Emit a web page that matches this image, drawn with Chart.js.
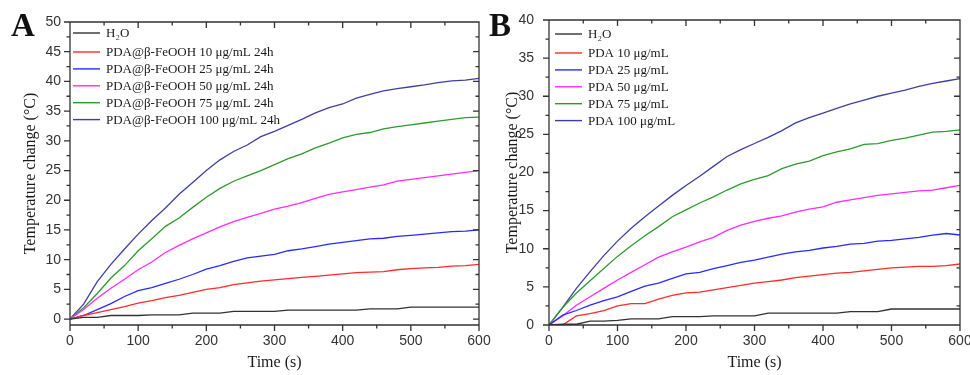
<!DOCTYPE html>
<html>
<head>
<meta charset="utf-8">
<script src="https://cdn.jsdelivr.net/npm/chart.js@4.4.0/dist/chart.umd.min.js"></script>
<style>
  body { margin: 0; background: #fff; }
  #wrap { position: relative; width: 970px; height: 375px; overflow: hidden; }
  canvas { position: absolute; top: 0; }
  #cA { left: 0; }
  #cB { left: 485px; }
  .tag { position: absolute; top: 9px; font: bold 33px "Liberation Serif", serif; line-height: 1; color: #111; }
</style>
</head>
<body>
<div id="wrap">
  <canvas id="cA" width="500" height="375"></canvas>
  <canvas id="cB" width="485" height="375"></canvas>
  <div class="tag" style="left:11px">A</div>
  <div class="tag" style="left:489px">B</div>
</div>
<script>
// time axis (s), one reading every 20 s
const timeS = [0, 20, 40, 60, 80, 100, 120, 140, 160, 180, 200, 220, 240, 260, 280, 300,
  320, 340, 360, 380, 400, 420, 440, 460, 480, 500, 520, 540, 560, 580, 600];

// panel A: PDA@β-FeOOH, temperature change (°C)
const feH2O = [0, 0.3, 0.3, 0.6, 0.6, 0.6, 0.7, 0.7, 0.7, 1.0, 1.0, 1.0, 1.3, 1.3, 1.3, 1.3,
  1.5, 1.5, 1.5, 1.5, 1.5, 1.5, 1.7, 1.7, 1.7, 2.0, 2.0, 2.0, 2.0, 2.0, 2.0];
const fe10 = [0, 0.6, 1.1, 1.6, 2.1, 2.7, 3.1, 3.6, 4.0, 4.5, 5.0, 5.3, 5.8, 6.1, 6.4, 6.6,
  6.8, 7.0, 7.2, 7.4, 7.6, 7.8, 7.9, 8.0, 8.3, 8.5, 8.6, 8.7, 8.9, 9.0, 9.2];
const fe25 = [0, 0.6, 1.6, 2.6, 3.8, 4.8, 5.3, 6.0, 6.7, 7.5, 8.4, 9.0, 9.7, 10.3, 10.6, 10.9,
  11.5, 11.8, 12.2, 12.6, 12.9, 13.2, 13.5, 13.6, 13.9, 14.1, 14.3, 14.5, 14.7, 14.8, 15.0];
const fe50 = [0, 1.6, 3.5, 5.2, 6.7, 8.3, 9.6, 11.2, 12.4, 13.5, 14.5, 15.5, 16.4, 17.1, 17.8, 18.5,
  19.0, 19.6, 20.3, 21.0, 21.4, 21.8, 22.2, 22.6, 23.2, 23.5, 23.8, 24.1, 24.4, 24.7, 25.0];
const fe75 = [0, 1.9, 4.3, 6.9, 9.0, 11.5, 13.5, 15.6, 17.0, 18.8, 20.5, 22.0, 23.2, 24.1, 25.0, 26.0,
  27.0, 27.8, 28.8, 29.6, 30.5, 31.1, 31.4, 32.0, 32.4, 32.7, 33.0, 33.3, 33.6, 33.9, 34.0];
const fe100 = [0, 2.5, 6.3, 9.2, 11.8, 14.3, 16.6, 18.7, 21.0, 23.0, 25.0, 26.8, 28.2, 29.3, 30.7, 31.6,
  32.6, 33.6, 34.7, 35.6, 36.2, 37.2, 37.8, 38.4, 38.8, 39.1, 39.4, 39.8, 40.1, 40.2, 40.5];

// panel B: PDA only
const pdaH2O = [0, 0.1, 0.1, 0.5, 0.5, 0.6, 0.8, 0.8, 0.8, 1.1, 1.1, 1.1, 1.2, 1.2, 1.2, 1.2,
  1.55, 1.55, 1.55, 1.55, 1.55, 1.55, 1.75, 1.75, 1.75, 2.1, 2.1, 2.1, 2.1, 2.1, 2.1];
const pda10 = [0, 0, 1.2, 1.5, 1.9, 2.5, 2.8, 2.8, 3.4, 3.9, 4.2, 4.3, 4.6, 4.9, 5.2, 5.5,
  5.7, 5.9, 6.2, 6.4, 6.6, 6.8, 6.9, 7.1, 7.3, 7.5, 7.6, 7.7, 7.7, 7.8, 8.0];
const pda25 = [0, 1.3, 1.9, 2.6, 3.2, 3.7, 4.4, 5.1, 5.5, 6.1, 6.7, 6.9, 7.4, 7.8, 8.2, 8.5,
  8.9, 9.3, 9.6, 9.8, 10.1, 10.3, 10.6, 10.7, 11.0, 11.1, 11.3, 11.5, 11.8, 12.0, 11.8];
const pda50 = [0, 1.2, 2.6, 3.7, 4.8, 5.9, 6.9, 7.9, 8.9, 9.6, 10.2, 10.9, 11.5, 12.4, 13.1, 13.6,
  14.0, 14.3, 14.8, 15.2, 15.5, 16.1, 16.4, 16.7, 17.0, 17.2, 17.4, 17.6, 17.7, 18.0, 18.3];
const pda75 = [0, 2.3, 4.2, 5.8, 7.4, 9.0, 10.4, 11.7, 12.9, 14.2, 15.1, 16.0, 16.8, 17.7, 18.5, 19.1,
  19.6, 20.5, 21.1, 21.5, 22.2, 22.7, 23.1, 23.7, 23.8, 24.2, 24.5, 24.9, 25.3, 25.4, 25.6];
const pda100 = [0, 2.3, 4.8, 7.0, 9.1, 11.0, 12.7, 14.2, 15.6, 17.0, 18.3, 19.5, 20.8, 22.1, 23.0, 23.8,
  24.6, 25.5, 26.5, 27.2, 27.8, 28.4, 29.0, 29.5, 30.0, 30.4, 30.8, 31.3, 31.7, 32.0, 32.3];

const labelsA = ["H₂O", "PDA@β-FeOOH 10 μg/mL 24h", "PDA@β-FeOOH 25 μg/mL 24h",
  "PDA@β-FeOOH 50 μg/mL 24h", "PDA@β-FeOOH 75 μg/mL 24h", "PDA@β-FeOOH 100 μg/mL 24h"];
const labelsB = ["H₂O", "PDA 10 μg/mL", "PDA 25 μg/mL", "PDA 50 μg/mL", "PDA 75 μg/mL", "PDA 100 μg/mL"];

const xTicks = [0, 100, 200, 300, 400, 500, 600];
const yTicksA = [0, 5, 10, 15, 20, 25, 30, 35, 40, 45, 50];
const yTicksB = [0, 5, 10, 15, 20, 25, 30, 35, 40];

const lineColors = ["#333333", "#ff2a2a", "#2a2aff", "#ff2aff", "#2e9a2e", "#3f3fa0"];
const tickFont = { family: '"Liberation Sans", Arial, sans-serif', size: 14 };
const titleFont = { family: '"Liberation Serif", "Times New Roman", serif', size: 16 };

// box, major/minor ticks like Origin: out on left/bottom, in on top/right
const originAxes = {
  id: 'originAxes',
  afterDatasetsDraw(chart) {
    const { ctx, chartArea: a, scales: { x, y } } = chart;
    const seg = (x1, y1, x2, y2) => { ctx.moveTo(x1, y1); ctx.lineTo(x2, y2); };
    ctx.save();
    ctx.strokeStyle = '#333';
    ctx.lineWidth = 1.3;
    ctx.beginPath();
    ctx.rect(a.left, a.top, a.right - a.left, a.bottom - a.top);
    for (let v = 0; v <= x.max; v += 50) {
      const px = x.getPixelForValue(v), len = v % 100 === 0 ? 6 : 3.5;
      seg(px, a.bottom, px, a.bottom + len);
      seg(px, a.top, px, a.top + len);
    }
    for (let v = 0; v <= y.max; v += 2.5) {
      const py = y.getPixelForValue(v), len = v % 5 === 0 ? 6 : 3.5;
      seg(a.left - len, py, a.left, py);
      seg(a.right - len, py, a.right, py);
    }
    ctx.stroke();
    ctx.restore();
  }
};

const boxLegend = {
  id: 'boxLegend',
  afterDraw(chart, args, o) {
    const ctx = chart.ctx;
    ctx.save();
    ctx.font = '13px "Liberation Serif", "Times New Roman", serif';
    ctx.textBaseline = 'middle';
    chart.data.datasets.forEach((ds, i) => {
      const y = o.y + (i ? o.first + (i - 1) * o.gap : 0);
      ctx.strokeStyle = ds.borderColor;
      ctx.lineWidth = 1.4;
      ctx.beginPath();
      ctx.moveTo(o.x, y);
      ctx.lineTo(o.x + 27, y);
      ctx.stroke();
      ctx.fillStyle = '#1a1a1a';
      ctx.fillText(ds.label, o.x + 33, y + 1);
    });
    ctx.restore();
  }
};

function buildChart(id, series, names, yMin, yMax, yTicks, box, legend) {
  return new Chart(id, {
    type: 'line',
    data: {
      datasets: series.map((s, i) => ({
        label: names[i],
        data: timeS.map((t, k) => ({ x: t, y: s[k] })),
        borderColor: lineColors[i],
        borderWidth: 1.3,
        pointRadius: 0,
        tension: 0,
        fill: false
      }))
    },
    options: {
      responsive: false,
      animation: false,
      devicePixelRatio: 1,
      layout: { padding: { left: 0, top: box.top, right: box.right, bottom: 0 } },
      plugins: { legend: { display: false }, tooltip: { enabled: false }, boxLegend: legend },
      scales: {
        x: {
          type: 'linear', min: 0, max: 600,
          afterBuildTicks: s => { s.ticks = xTicks.map(v => ({ value: v })); },
          afterFit: s => { s.height = 50; s.paddingLeft = 0; s.paddingRight = 0; },
          grid: { display: false, drawTicks: false },
          border: { display: false },
          ticks: { font: tickFont, color: '#333', padding: 8, maxRotation: 0 },
          title: { display: true, text: 'Time (s)', font: titleFont, color: '#1a1a1a', padding: { top: 0, bottom: 3 } }
        },
        y: {
          type: 'linear', min: yMin, max: yMax,
          afterBuildTicks: s => { s.ticks = yTicks.map(v => ({ value: v })); },
          afterFit: s => { s.width = box.left; s.paddingTop = 0; s.paddingBottom = 0; },
          grid: { display: false, drawTicks: false },
          border: { display: false },
          ticks: { font: tickFont, color: '#333', padding: box.tickPad },
          title: { display: true, text: 'Temperature change (°C)', font: titleFont, color: '#1a1a1a', padding: { top: box.titlePad, bottom: 0 } }
        }
      }
    },
    plugins: [originAxes, boxLegend]
  });
}

buildChart('cA', [feH2O, fe10, fe25, fe50, fe75, fe100], labelsA, -1, 50, yTicksA,
  { left: 70, top: 22, right: 21, tickPad: 9, titlePad: 21 },
  { x: 73, y: 33, first: 19, gap: 16.9 });

buildChart('cB', [pdaH2O, pda10, pda25, pda50, pda75, pda100], labelsB, 0, 40, yTicksB,
  { left: 64, top: 20, right: 10, tickPad: 15, titlePad: 18 },
  { x: 70, y: 34, first: 19, gap: 16.9 });
</script>
</body>
</html>
